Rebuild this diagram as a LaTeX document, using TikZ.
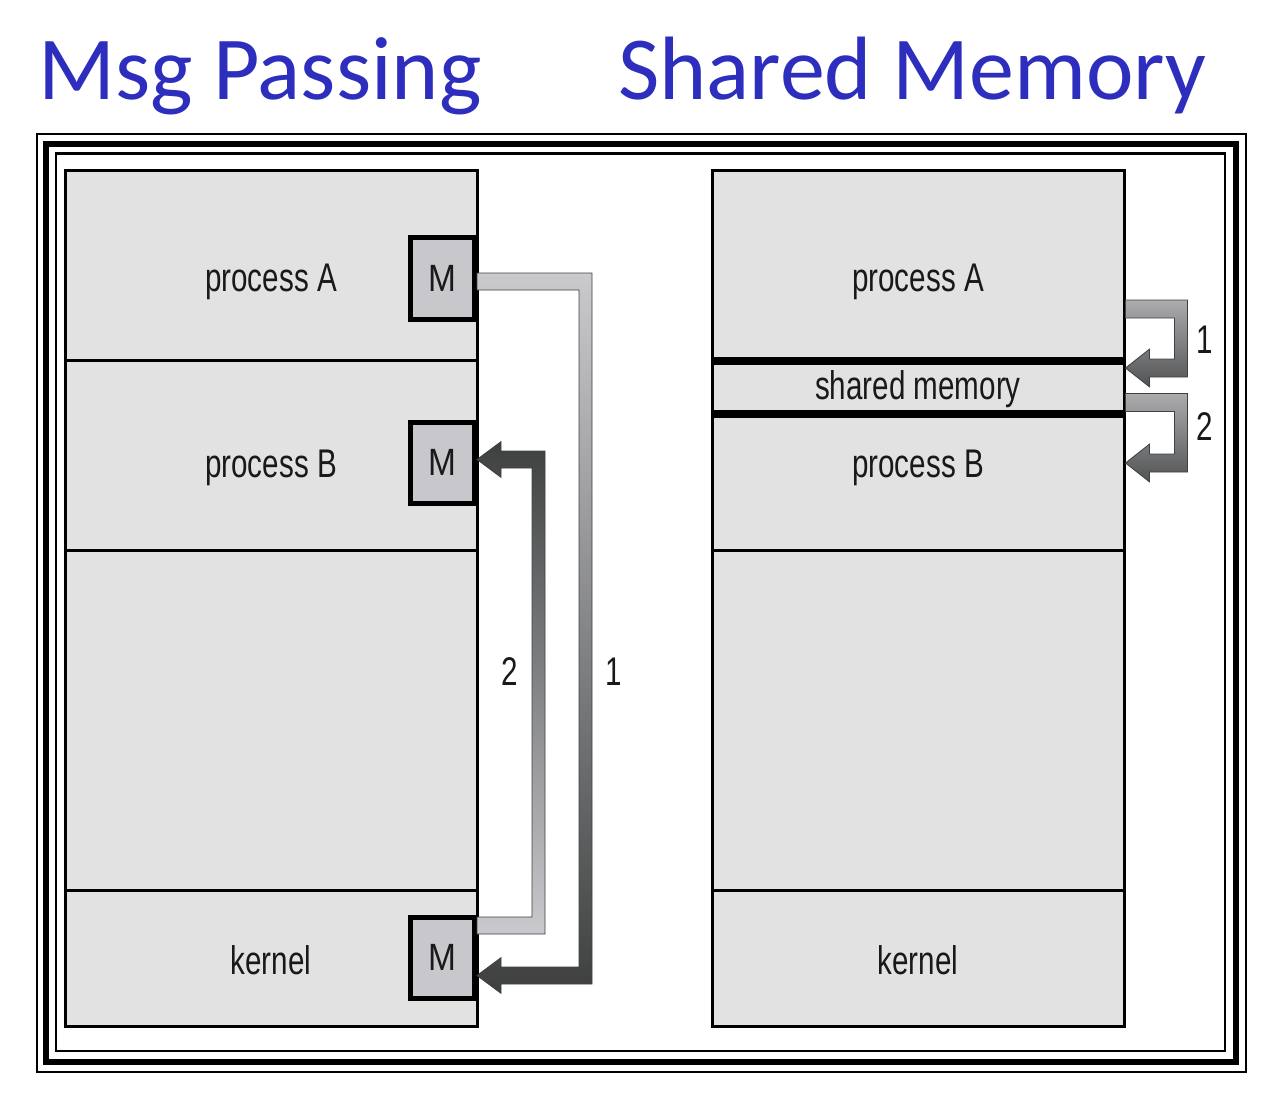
\documentclass[tikz,border=0pt]{standalone}
\usepackage{fontspec}
\setmainfont{Liberation Sans}
\newfontfamily\titlefont{Carlito}
\newfontfamily\boxfont[FakeStretch=0.74]{Liberation Sans}
\newfontfamily\mfont[FakeStretch=0.88]{Liberation Sans}
\usetikzlibrary{calc,positioning}

\definecolor{titleblue}{RGB}{46,46,190}
\definecolor{memgray}{RGB}{226,226,226}
\definecolor{msggray}{RGB}{200,200,204}
\definecolor{arrowdark}{RGB}{62,64,64}
\definecolor{arrowlight}{RGB}{202,202,206}

\tikzset{
  title/.style={anchor=base west, inner sep=0pt, text=titleblue, font=\titlefont\fontsize{90}{108}\selectfont},
  region/.style={draw=black, line width=3pt, fill=memgray, minimum width=412pt, inner sep=0pt, outer sep=0pt},
  msgbox/.style={draw=black, line width=5pt, fill=msggray, minimum width=64pt, minimum height=81pt, inner sep=0pt, text=black!90, font=\mfont\fontsize{38}{44}\selectfont},
  lbl/.style={inner sep=0pt, text=black!90, font=\boxfont\fontsize{40}{48}\selectfont},
  arrowline/.style={draw=black!75, line width=0.8pt}
}

% #1 shading, #2 start, #3 tip, #4 bend, #5 signed half width
\newcommand\bentarrow[5]{%
  \shade[arrowline, #1] let \p1=(#2), \p2=(#3), \p3=(#4) in
    ({\x1},{\y1+(#5)}) -- ({\x3+6.5pt},{\y1+(#5)}) -- ({\x3+6.5pt},{\y2-(#5)})
    -- ({\x2+24pt},{\y2-(#5)}) -- ({\x2+24pt},{\y2-2.1*(#5)}) -- (\x2,\y2)
    -- ({\x2+24pt},{\y2+2.1*(#5)}) -- ({\x2+24pt},{\y2+(#5)})
    -- ({\x3-6.5pt},{\y2+(#5)}) -- ({\x3-6.5pt},{\y1-(#5)}) -- ({\x1},{\y1-(#5)}) -- cycle;
}

\begin{document}
\begin{tikzpicture}[x=1pt,y=-1pt]
  \useasboundingbox (0,0) rectangle (1272,1102);

  % Titles
  \node[title] (msgtitle) at (38,100) {Msg Passing};
  \node[title] (shmtitle) at (618,100) {Shared Memory};

  % Triple frame
  \draw[line width=2.5pt] (37,134) rectangle (1246,1072);
  \draw[line width=6pt]   (46,144) rectangle (1236,1062);
  \draw[line width=2.5pt] (56,153.5) rectangle (1225,1051);

  % Message passing
  \node[region, minimum height=189pt] (lprocA) at (271,265.5) {};
  \node[region, minimum height=190pt, below=0pt of lprocA] (lprocB) {};
  \node[region, minimum height=340pt, below=0pt of lprocB] (lfree) {};
  \node[region, minimum height=136pt, below=0pt of lfree] (lkernel) {};

  \node[lbl] (ltextA) at (271,282) {process A};
  \node[lbl] (ltextB) at (271,468) {process B};
  \node[lbl] (ltextK) at (271,960) {kernel};

  \node[msgbox] (mA) at (442.5,278.5) {M};
  \node[msgbox] (mB) at (442.5,462.5) {M};
  \node[msgbox] (mK) at (442.5,957.5) {M};

  \coordinate (bendone) at (585.5,0);
  \coordinate (bendtwo) at (538.5,0);
  \bentarrow{top color=arrowlight, bottom color=arrowdark}{$(mA.east)+(0,3)$}{$(mK.east)+(0,18)$}{bendone}{8.5pt}
  \bentarrow{top color=arrowdark, bottom color=arrowlight}{$(mK.east)+(0,-32)$}{$(mB.east)+(0,-3)$}{bendtwo}{-8.5pt}

  \node[lbl] (lnumtwo) at (510,672) {2};
  \node[lbl] (lnumone) at (614,672) {1};

  % Shared memory
  \node[region, minimum height=190pt] (rprocA) at (918,266) {};
  \node[region, minimum height=53pt, below=0pt of rprocA] (rshared) {};
  \node[region, minimum height=136pt, below=0pt of rshared] (rprocB) {};
  \node[region, minimum height=340pt, below=0pt of rprocB] (rfree) {};
  \node[region, minimum height=136pt, below=0pt of rfree] (rkernel) {};
  \draw[line width=7.5pt] (rshared.north west) -- (rshared.north east);
  \draw[line width=7.5pt] (rshared.south west) -- (rshared.south east);

  \node[lbl] (rtextA) at (918,282) {process A};
  \node[lbl] (rtextS) at (918,389) {shared memory};
  \node[lbl] (rtextB) at (918,468) {process B};
  \node[lbl] (rtextK) at (918,960) {kernel};

  \coordinate (bendright) at (1181,0);
  \bentarrow{top color=arrowlight!85!black, bottom color=arrowdark!90!white}{$(rprocA.east)+(1.5,43)$}{$(rshared.east)+(1.5,-19.5)$}{bendright}{9pt}
  \bentarrow{top color=arrowlight!85!black, bottom color=arrowdark!90!white}{$(rshared.east)+(1.5,15)$}{$(rprocB.east)+(1.5,-19)$}{bendright}{9pt}

  \node[lbl] (rnumone) at (1205,340) {1};
  \node[lbl] (rnumtwo) at (1205,427) {2};
\end{tikzpicture}
\end{document}
